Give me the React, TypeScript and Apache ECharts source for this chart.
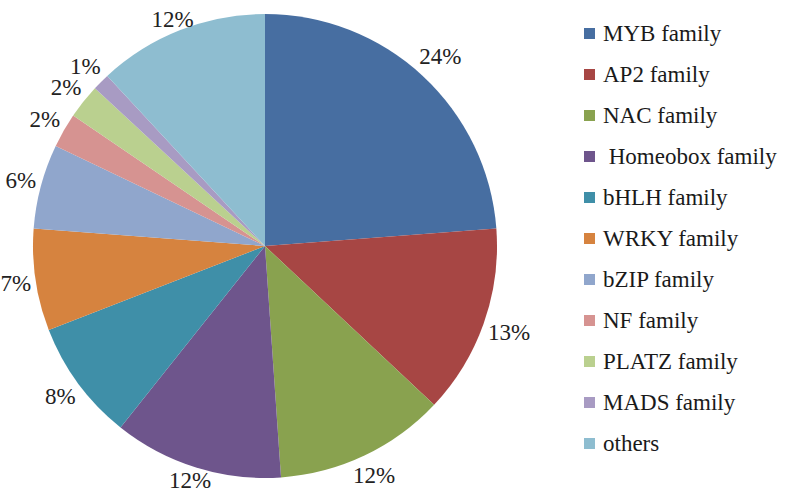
import React, { useEffect, useRef } from "react";
import * as echarts from "echarts";

const categories = [
  "MYB family",
  "AP2 family",
  "NAC family",
  " Homeobox family",
  "bHLH family",
  "WRKY family",
  "bZIP family",
  "NF family",
  "PLATZ family",
  "MADS family",
  "others",
];
const values = [23.8, 13.2, 11.9, 11.8, 8.4, 7.1, 5.9, 2.4, 2.4, 1.2, 11.9];
const colors = [
  "#476ea1",
  "#a74644",
  "#89a24f",
  "#6e558c",
  "#3f8fa8",
  "#d6833f",
  "#90a6cc",
  "#d69391",
  "#bad08f",
  "#a89bc3",
  "#8ebdd0",
];

const FONT = "Liberation Serif, Times New Roman, serif";
const CX = 265;
const CY = 246;
const R = 232;
const GAP = 3;

export default function App() {
  const ref = useRef<HTMLDivElement>(null);
  useEffect(() => {
    if (!ref.current) return;
    const chart = echarts.init(ref.current, undefined, { renderer: "svg" });
    const total = values.reduce((a, b) => a + b, 0);
    const mids: number[] = [];
    let cum = 0;
    values.forEach((v) => {
      mids.push(((90 - ((cum + v / 2) / total) * 360) * Math.PI) / 180);
      cum += v;
    });
    chart.setOption({
      animation: false,
      backgroundColor: "#ffffff",
      color: colors,
      textStyle: { fontFamily: FONT },
      legend: {
        orient: "vertical",
        left: 584,
        top: 22,
        padding: 0,
        itemWidth: 11,
        itemHeight: 11,
        itemGap: 18,
        icon: "rect",
        textStyle: {
          fontFamily: FONT,
          fontSize: 23,
          lineHeight: 23,
          color: "#1a1a1a",
          padding: [0, 0, 0, 3],
        },
        data: categories,
      },
      series: [
        {
          type: "pie",
          center: [CX, CY],
          radius: R,
          startAngle: 90,
          clockwise: true,
          avoidLabelOverlap: false,
          label: {
            show: true,
            position: "outside",
            fontFamily: FONT,
            fontSize: 23,
            color: "#222",
            formatter: (p: any) => Math.round((p.value / total) * 100) + "%",
          },
          labelLine: { show: false, length: 6, length2: 0 },
          labelLayout: (p: any) => {
            const a = mids[p.dataIndex];
            const c = Math.cos(a);
            const s = Math.sin(a);
            const w = p.labelRect.width;
            const h = p.labelRect.height;
            const half = (Math.abs(c) * w) / 2 + (Math.abs(s) * h) / 2;
            const d = R + GAP + half;
            let x = CX + c * d;
            let y = CY - s * d;
            y = Math.max(h / 2 + 8, Math.min(493 - h / 2 - 1, y));
            x = Math.max(w / 2, x);
            return { x, y, align: "center", verticalAlign: "middle", hideOverlap: false };
          },
          itemStyle: { borderWidth: 0 },
          emphasis: { disabled: true },
          data: categories.map((name, i) => ({ name, value: values[i] })),
        },
      ],
    });
    return () => chart.dispose();
  }, []);
  return (
    <div
      ref={ref}
      style={{ position: "fixed", left: 0, top: 0, width: 787, height: 493 }}
    />
  );
}
